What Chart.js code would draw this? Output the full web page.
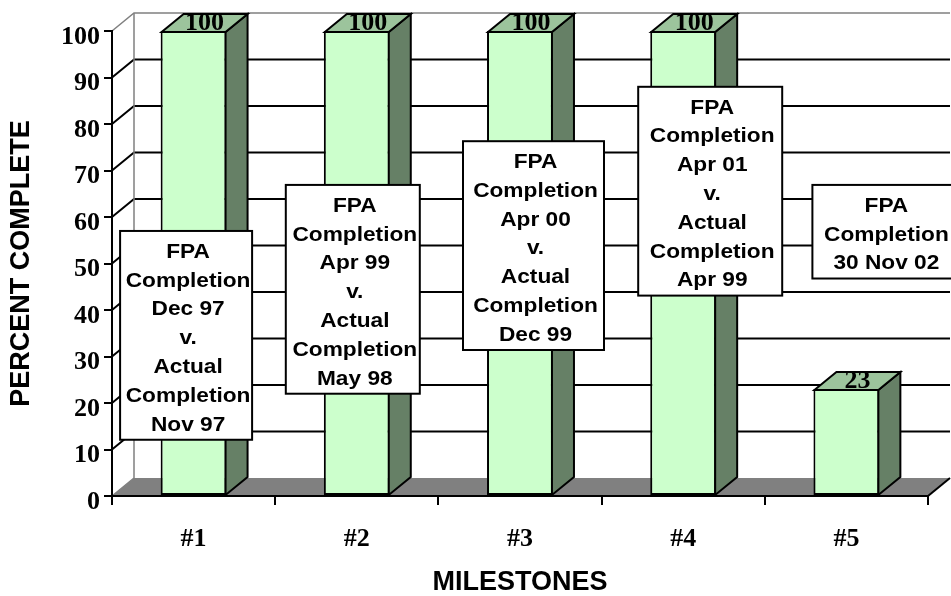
<!DOCTYPE html>
<html><head><meta charset="utf-8">
<script src="https://cdn.jsdelivr.net/npm/chart.js@4/dist/chart.umd.min.js"></script>
<style>html,body{margin:0;padding:0;background:#fff;overflow:hidden}</style>
</head><body>
<canvas id="c" width="951" height="596"></canvas>
<script>
// ---- data ----
const categories = ['#1', '#2', '#3', '#4', '#5'];
const percentComplete = [100, 100, 100, 100, 23];
const fpaCompletion = ['Dec 97', 'Apr 99', 'Apr 00', 'Apr 01', '30 Nov 02'];
const actualCompletion = ['Nov 97', 'May 98', 'Dec 99', 'Apr 99', null];
const yTicks = [0, 10, 20, 30, 40, 50, 60, 70, 80, 90, 100];

// ---- layout / style ----
const DX = 22, DY = 18;
const SERIF = '"Liberation Serif", "Times New Roman", serif';
const SANS = '"Liberation Sans", Arial, sans-serif';
const FRONT = '#CCFFCC', TOP = '#9CC49C', SIDE = '#668066', FLOOR = '#808080';
// annotation boxes: offset from category centre (px), top edge (value units), width (px)
const boxLayout = [
  {dx: -7.5, top: 57.0, w: 132},
  {dx: -4,   top: 66.9, w: 134},
  {dx: 13.5, top: 76.3, w: 141},
  {dx: 27,   top: 88.0, w: 144},
  {dx: 38,   top: 66.9, w: 144}
];
const LINE = 28.8;

function seg(ctx, pts) {
  ctx.beginPath();
  ctx.moveTo(pts[0][0], pts[0][1]);
  for (let i = 1; i < pts.length; i++) ctx.lineTo(pts[i][0], pts[i][1]);
}

const threeD = {
  id: 'threeD',
  beforeDraw(chart) {
    const {ctx, chartArea: a, scales: {y}} = chart;
    ctx.save();
    ctx.fillStyle = '#fff';
    ctx.fillRect(0, 0, chart.width, chart.height);
    // floor
    ctx.fillStyle = FLOOR;
    seg(ctx, [[a.left, a.bottom], [a.right, a.bottom], [a.right + DX, a.bottom - DY], [a.left + DX, a.bottom - DY]]);
    ctx.closePath(); ctx.fill();
    // gridlines on side + back wall
    yTicks.forEach(v => {
      if (v === 0) return;
      const py = y.getPixelForValue(v);
      ctx.strokeStyle = v === 100 ? '#808080' : '#000';
      ctx.lineWidth = v === 100 ? 1.5 : 2;
      seg(ctx, [[a.left, py], [a.left + DX, py - DY], [a.right + DX, py - DY]]);
      ctx.stroke();
    });
    // back wall left edge + floor left edge
    ctx.strokeStyle = '#808080'; ctx.lineWidth = 1.5;
    seg(ctx, [[a.left + DX, a.top - DY], [a.left + DX, a.bottom - DY], [a.left, a.bottom]]);
    ctx.stroke();
    // floor right edge
    ctx.strokeStyle = '#000'; ctx.lineWidth = 2;
    seg(ctx, [[a.right, a.bottom], [a.right + DX, a.bottom - DY]]);
    ctx.stroke();
    ctx.restore();
  },
  afterDatasetsDraw(chart) {
    const {ctx, scales: {x, y}} = chart;
    const meta = chart.getDatasetMeta(0);
    ctx.save();
    ctx.lineJoin = 'miter';
    meta.data.forEach((bar, i) => {
      const p = bar.getProps(['x', 'y', 'base', 'width'], true);
      const l = p.x - p.width / 2 + 1, r = p.x + p.width / 2 - 1, t = p.y + 1, b = p.base;
      ctx.strokeStyle = '#000'; ctx.lineWidth = 2;
      ctx.fillStyle = SIDE;
      seg(ctx, [[r, t], [r + DX, t - DY], [r + DX, b - DY], [r, b]]);
      ctx.closePath(); ctx.fill(); ctx.stroke();
      ctx.fillStyle = TOP;
      seg(ctx, [[l, t], [l + DX, t - DY], [r + DX, t - DY], [r, t]]);
      ctx.closePath(); ctx.fill(); ctx.stroke();
      ctx.fillStyle = '#000';
      ctx.font = 'bold 26px ' + SERIF;
      ctx.textAlign = 'center'; ctx.textBaseline = 'middle';
      ctx.fillText(String(percentComplete[i]), (l + r) / 2 + DX / 2, t - DY / 2);
    });
    // annotation boxes
    categories.forEach((c, i) => {
      const lines = ['FPA', 'Completion', fpaCompletion[i]];
      if (actualCompletion[i]) lines.push('v.', 'Actual', 'Completion', actualCompletion[i]);
      const L = boxLayout[i];
      const cx = x.getPixelForValue(i) + L.dx;
      const top = y.getPixelForValue(L.top);
      const h = 21 + (lines.length - 1) * LINE + 15;
      const left = cx - L.w / 2;
      ctx.fillStyle = '#fff';
      ctx.fillRect(left, top, L.w, h);
      ctx.fillStyle = '#000';
      ctx.font = 'bold 21px ' + SANS;
      ctx.textAlign = 'center'; ctx.textBaseline = 'middle';
      lines.forEach((s, k) => {
        ctx.save();
        ctx.translate(cx + 2, top + 21 + k * LINE);
        ctx.scale(1.08, 1);
        ctx.fillText(s, 0, 0);
        ctx.restore();
      });
      ctx.strokeStyle = '#000'; ctx.lineWidth = 2;
      ctx.strokeRect(left, top, L.w, h);
    });
    ctx.restore();
  }
};

new Chart(document.getElementById('c'), {
  type: 'bar',
  data: {
    labels: categories,
    datasets: [{
      data: percentComplete,
      backgroundColor: FRONT,
      borderColor: '#000',
      borderWidth: 2,
      borderSkipped: false,
      barPercentage: 0.404,
      categoryPercentage: 1
    }]
  },
  options: {
    responsive: false,
    animation: false,
    devicePixelRatio: 1,
    layout: {padding: {top: 31, right: 23, left: 0, bottom: 0}},
    plugins: {legend: {display: false}, tooltip: {enabled: false}},
    scales: {
      x: {
        grid: {display: true, drawOnChartArea: false, drawTicks: true, tickLength: 9, color: '#000', lineWidth: 2, offset: true},
        border: {display: true, color: '#000', width: 2},
        ticks: {font: {family: SERIF, size: 26, weight: 'bold'}, color: '#000', padding: 19, maxRotation: 0},
        title: {display: true, text: 'MILESTONES', color: '#000', padding: 0,
                font: {family: SANS, size: 27, weight: 'bold', lineHeight: 1.0}},
        afterFit(s) { s.height = 100; }
      },
      y: {
        min: 0, max: 100,
        ticks: {stepSize: 10, font: {family: SERIF, size: 26, weight: 'bold'}, color: '#000', padding: 4, labelOffset: 6},
        grid: {drawOnChartArea: false, drawTicks: true, tickLength: 8, color: '#000', lineWidth: 2},
        border: {display: true, color: '#000', width: 2},
        title: {display: true, text: 'PERCENT COMPLETE', color: '#000', padding: {top: 5, bottom: 0},
                font: {family: SANS, size: 27, weight: 'bold'}},
        afterFit(s) { s.width = 112; }
      }
    }
  },
  plugins: [threeD]
});
</script>
</body></html>
